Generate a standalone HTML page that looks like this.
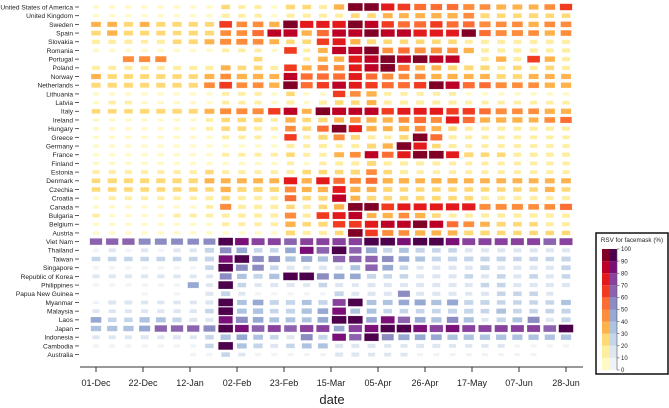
<!DOCTYPE html>
<html><head><meta charset="utf-8"><style>
html,body{margin:0;padding:0;background:#fff;}
svg{display:block;font-family:"Liberation Sans",Arial,sans-serif;}
</style></head><body>
<svg id="chart" width="669" height="408" viewBox="0 0 669 408">
<g id="rows-labels"></g>
<g id="cells"></g>
<g id="xaxis"></g>
<text x="332" y="404" font-size="13" text-anchor="middle" fill="#222">date</text>
<g id="legend"></g>
</svg>
<script>
const countries = ["United States of America","United Kingdom","Sweden","Spain","Slovakia","Romania","Portugal","Poland","Norway","Netherlands","Lithuania","Latvia","Italy","Ireland","Hungary","Greece","Germany","France","Finland","Estonia","Denmark","Czechia","Croatia","Canada","Bulgaria","Belgium","Austria","Viet Nam","Thailand","Taiwan","Singapore","Republic of Korea","Philippines","Papua New Guinea","Myanmar","Malaysia","Laos","Japan","Indonesia","Cambodia","Australia"];
const groups = [0,0,0,0,0,0,0,0,0,0,0,0,0,0,0,0,0,0,0,0,0,0,0,0,0,0,0,1,1,1,1,1,1,1,1,1,1,1,1,1,1];
const tickLabels = ["01-Dec","22-Dec","12-Jan","02-Feb","23-Feb","15-Mar","05-Apr","26-Apr","17-May","07-Jun","28-Jun"];
const legendTicks = [0,10,20,30,40,50,60,70,80,90,100];
const values = [
[5,5,5,5,5,5,5,5,20,10,10,5,25,20,15, 35,95,95,75,65,55,50,50,45,40,30,30,30,40,60],
[5,5,5,5,5,5,5,5,15,10,10,5,15,15,15, 15,20,20,30,30,30,35,35,40,25,20,20,25,20,20],
[30,30,25,30,25,25,25,25,65,40,40,35,95,75,75, 75,95,80,60,55,55,60,55,50,45,40,40,35,40,40],
[25,35,25,25,25,20,25,25,40,40,50,80,85,35,55, 80,85,90,85,85,75,75,70,90,50,45,45,40,35,40],
[15,15,15,10,15,20,25,30,45,45,40,30,20,20,60, 70,35,25,20,20,20,20,20,15,15,15,15,15,15,15],
[5,5,5,5,5,5,5,5,10,10,10,5,65,10,30, 85,85,95,40,50,45,45,40,35,15,15,15,15,15,15],
[0,0,45,45,45,0,0,0,0,0,20,0,0,10,30, 35,75,85,95,85,95,85,85,0,15,35,15,65,35,15],
[15,15,15,15,15,15,15,15,30,20,20,15,65,30,40, 40,70,85,95,50,30,30,25,25,25,15,20,15,20,15],
[30,25,25,25,25,25,25,30,40,35,35,30,80,55,55, 55,75,50,45,40,40,35,35,30,30,25,25,30,30,30],
[25,25,25,25,25,25,25,40,65,40,40,35,95,55,60, 80,70,60,55,55,60,95,85,55,50,45,40,40,35,35],
[5,5,5,5,5,5,5,5,10,10,10,5,20,5,5, 60,40,35,10,10,10,10,10,5,5,5,5,5,5,5],
[5,10,10,5,5,5,5,5,10,10,10,5,15,5,15, 20,20,30,15,15,15,15,15,10,10,10,10,10,10,10],
[20,20,20,25,25,25,25,30,45,45,45,60,80,30,95, 85,80,85,60,70,70,75,60,60,50,45,40,40,35,35],
[5,5,5,5,5,5,5,10,20,20,20,10,35,20,25, 30,40,35,35,40,55,45,75,55,35,35,35,30,40,50],
[5,5,5,5,5,5,5,10,20,20,15,10,40,20,50, 95,75,35,30,35,40,30,20,15,15,15,15,15,15,15],
[5,5,5,5,5,5,5,5,10,10,10,5,60,10,25, 45,25,15,10,25,95,55,15,10,10,10,10,10,10,10],
[5,5,5,5,5,5,5,5,5,5,5,5,15,10,15, 10,15,25,35,95,75,20,15,10,10,10,10,10,10,10],
[5,5,5,5,5,5,5,5,10,10,10,10,20,10,10, 30,40,80,50,75,90,95,70,25,20,20,15,15,15,15],
[5,5,5,5,5,5,5,5,5,5,5,5,10,5,10, 15,15,25,15,15,15,15,10,10,10,10,10,10,10,10],
[10,10,10,10,10,10,10,20,10,10,10,10,15,20,20, 20,25,40,20,15,10,10,10,10,10,10,10,10,10,10],
[20,25,25,25,25,25,25,30,30,30,30,30,75,35,75, 50,45,50,35,35,30,35,35,30,30,30,30,30,30,30],
[20,20,20,20,20,20,20,20,35,25,25,25,45,30,35, 70,35,30,25,20,20,20,20,20,20,20,20,20,30,20],
[5,10,10,10,10,10,10,15,20,15,15,15,50,20,25, 85,30,25,20,20,20,20,20,20,15,15,15,15,15,15],
[5,5,5,5,5,5,5,10,45,15,15,15,20,15,20, 35,95,95,65,70,70,70,75,75,45,45,45,40,40,55],
[10,5,5,5,5,10,10,10,15,15,15,15,45,15,65, 70,80,30,35,40,35,20,15,15,15,15,15,15,15,15],
[5,5,5,5,5,5,5,5,10,10,10,10,35,20,25, 60,65,75,80,80,90,80,50,40,30,25,20,20,15,15],
[5,5,5,5,5,5,5,5,5,5,5,5,25,15,15, 20,95,65,45,40,35,30,30,25,25,20,20,20,20,20],
[60,60,60,55,55,55,50,55,95,80,70,70,65,70,70, 75,75,95,95,80,90,95,80,70,70,70,70,70,65,70],
[5,10,5,10,5,10,10,25,50,40,20,20,40,80,65, 95,60,45,25,30,25,20,20,15,15,15,15,15,15,15],
[20,20,20,20,20,20,20,25,85,95,50,50,35,45,35, 60,60,60,50,40,30,25,25,25,25,25,20,20,20,25],
[5,5,5,5,5,5,5,20,95,55,50,20,15,10,15, 15,30,60,40,20,10,15,15,15,25,15,15,15,15,25],
[10,10,10,10,10,10,10,10,55,30,25,35,95,95,55, 40,40,25,20,20,15,15,15,20,15,20,15,20,15,20],
[5,5,5,5,5,5,45,10,95,20,10,15,15,10,20, 15,10,15,15,15,15,15,15,15,20,20,15,15,15,15],
[0,0,0,5,0,5,0,15,25,10,5,5,5,5,5, 25,15,15,15,55,15,15,15,10,15,20,20,20,10,0],
[5,15,15,10,10,10,10,15,95,30,40,25,25,30,25, 70,95,30,30,40,45,35,45,25,25,20,20,20,20,30],
[10,10,10,10,10,10,10,20,95,30,35,20,25,35,40, 80,30,30,20,20,20,20,25,25,20,30,20,20,20,25],
[40,20,20,35,30,25,15,15,85,55,40,30,30,30,40, 95,95,40,80,60,40,35,50,35,10,25,30,55,15,25],
[35,35,35,45,60,60,60,55,95,80,65,70,65,75,70, 40,75,80,90,95,80,75,80,70,70,70,70,70,65,95],
[10,10,10,15,10,15,10,20,35,40,30,20,15,55,25, 80,60,90,55,45,40,40,35,35,35,35,35,35,35,35],
[5,5,5,5,5,5,5,20,95,30,25,15,20,30,30, 15,15,15,10,10,15,15,10,10,10,10,5,5,5,5],
[0,0,0,0,0,0,5,5,20,10,5,5,5,5,5, 15,15,10,10,10,5,5,5,5,5,5,5,5,0,0]
];
const NS="http://www.w3.org/2000/svg";
const warm=["#fff9c4","#ffeda0","#fed976","#feb24c","#fd8d3c","#fc6d33","#f03b20","#e31a1c","#bd0026","#800026"];
const cool=["#f0f4f9","#dde6f1","#c6d6ea","#aec3e0","#97a9d2","#8c8cc3","#8c63ae","#88419d","#7a0f78","#4d004b"];
function xCol(i){return 96+i*(566-96)/29;}
function yRow(r){return 7+r*8.69;}
function xTick(i){return 96+i*47;}
function colorFor(v,g){const b=Math.min(9,Math.floor(v/10));return (g?cool:warm)[b];}
function mk(tag,attrs,parent){const e=document.createElementNS(NS,tag);for(const k in attrs)e.setAttribute(k,attrs[k]);parent.appendChild(e);return e;}
const labG=document.getElementById('rows-labels');
const cellG=document.getElementById('cells');
countries.forEach((c,r)=>{
  const y=yRow(r);
  const t=mk('text',{x:73,y:y+2.4,'font-size':6.6,'text-anchor':'end',fill:'#222'},labG);
  t.textContent=c;
  
  
  const tk=mk('line',{x1:75,x2:79,y1:y,y2:y,stroke:'#333','stroke-width':0.8},labG);
  
  
  values[r].forEach((v,i)=>{
    if(!v)return;
    const f=0.25+0.75*Math.sqrt(v/100);
    const w=15*f,h=8*f;
    const rc=mk('rect',{x:xCol(i)-w/2,y:y-h/2,width:w,height:h,fill:colorFor(v,groups[r]),stroke:'#fff','stroke-opacity':0.5,'stroke-width':0.4},cellG);
    
    
  });
});
const xa=document.getElementById('xaxis');
mk('line',{x1:80,x2:583,y1:367,y2:367,stroke:'#333','stroke-width':1},xa);
tickLabels.forEach((l,i)=>{
  const x=xTick(i);
  mk('line',{x1:x,x2:x,y1:367,y2:372,stroke:'#333','stroke-width':1},xa);
  const t=mk('text',{x:x,y:386,'font-size':9,'text-anchor':'middle',fill:'#222'},xa);
  t.textContent=l;
  
  
});
const lg=document.getElementById('legend');
mk('rect',{x:596,y:233,width:72,height:141,fill:'#fff',stroke:'#111','stroke-width':1.5},lg);
const lt=mk('text',{x:632,y:242,'font-size':6.3,'text-anchor':'middle',fill:'#222'},lg);
lt.textContent='RSV for facemask (%)';


const y0=370,y1=249,step=(y0-y1)/10;
for(let b=0;b<10;b++){
  const yy=y0-(b+1)*step;
  const a=mk('rect',{x:602,y:yy,width:7.5,height:step,fill:warm[b]},lg);
  
  
  const c=mk('rect',{x:609.5,y:yy,width:7.5,height:step,fill:cool[b]},lg);
  
  
}
mk('line',{x1:617,x2:617,y1:y1,y2:y0,stroke:'#555','stroke-width':0.6},lg);
legendTicks.forEach(v=>{
  const yy=y0-v/10*step;
  mk('line',{x1:617,x2:619.5,y1:yy,y2:yy,stroke:'#555','stroke-width':0.6},lg);
  const t=mk('text',{x:621,y:yy+2.2,'font-size':6,fill:'#222'},lg);
  t.textContent=v;
  
  
});
</script>
</body></html>
